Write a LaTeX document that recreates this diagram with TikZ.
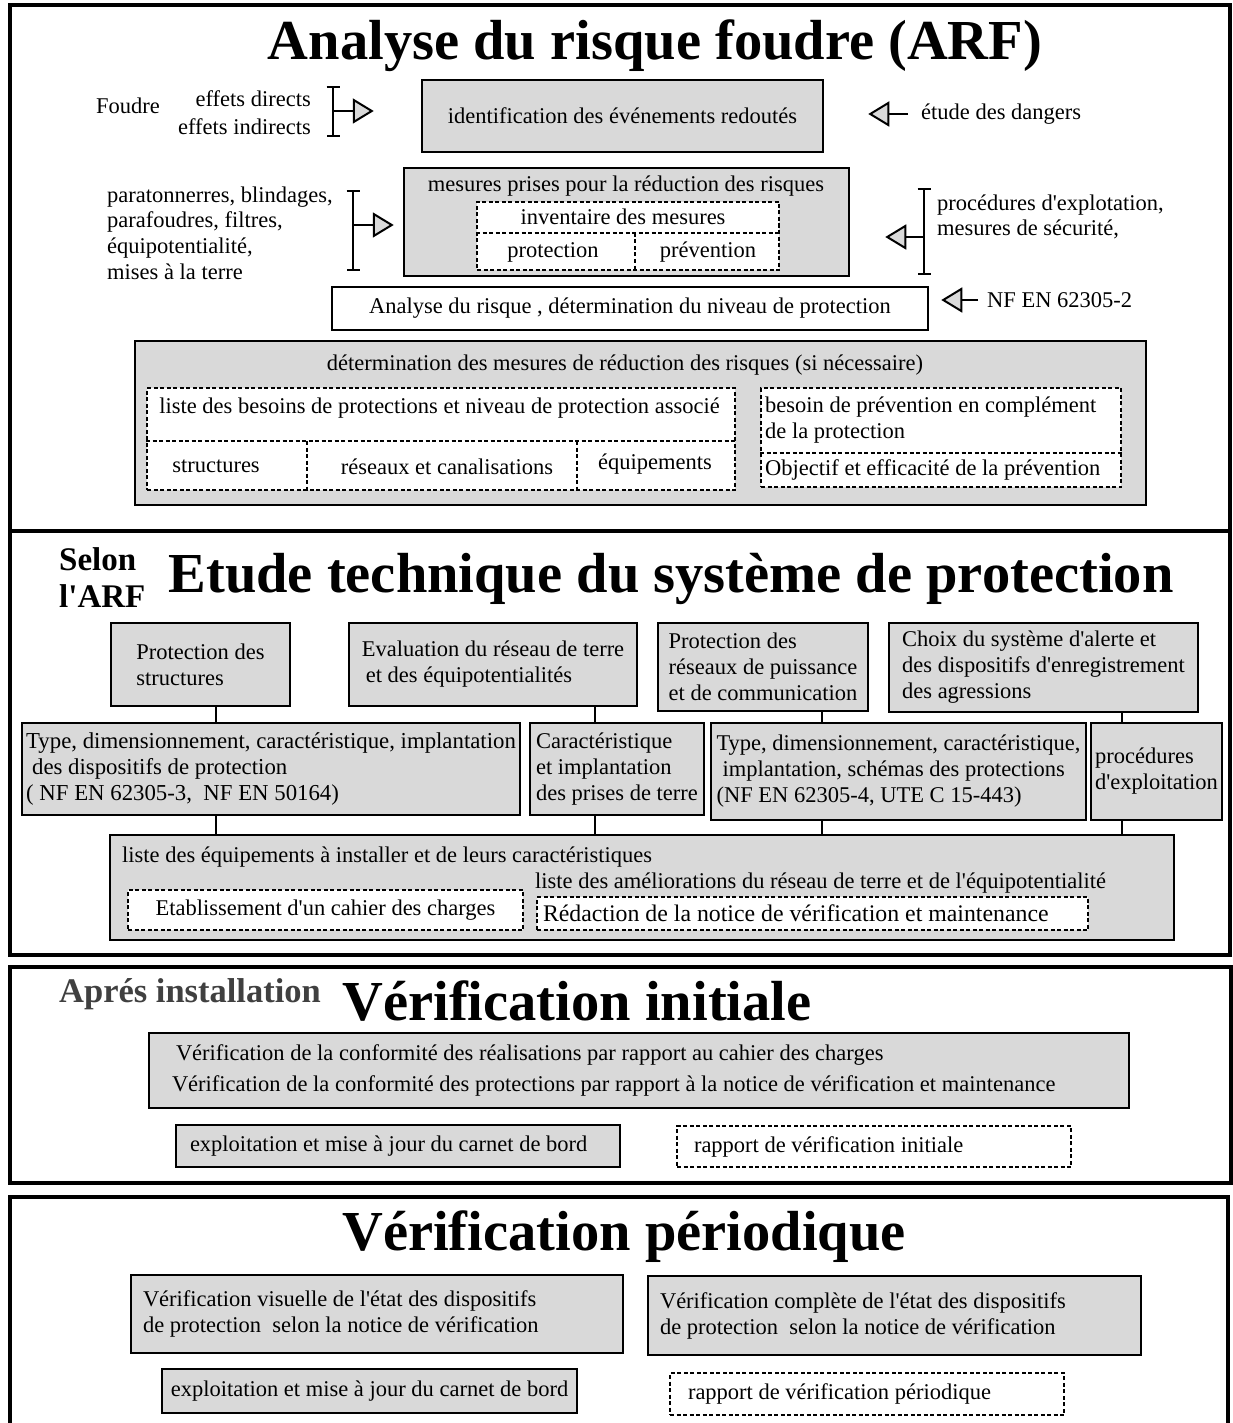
\documentclass[tikz,border=0pt]{standalone}
\usepackage{fontspec}
\setmainfont{Liberation Serif}[Ligatures=TeXOff]
\usetikzlibrary{arrows.meta,calc}
\definecolor{boxgray}{gray}{0.85}
\newcommand\bodyf{\fontsize{22.5}{26}\selectfont}
\newcommand\titlef{\fontsize{56.5}{60}\selectfont\bfseries}
\newcommand\subf{\fontsize{33}{37}\selectfont\bfseries}
\begin{document}
\begin{tikzpicture}[x=1pt,y=-1pt,
  txt/.style={font=\bodyf, inner sep=1pt},
  gbox/.style 2 args={draw, line width=2.5pt, fill=boxgray, minimum width=#1pt, minimum height=#2pt, font=\bodyf, align=center, inner sep=0pt},
  wbox/.style 2 args={draw, line width=2.5pt, fill=white, minimum width=#1pt, minimum height=#2pt, font=\bodyf, align=center, inner sep=0pt},
  dbox/.style 2 args={draw, line width=2pt, dash pattern=on 4pt off 2.5pt, fill=white, minimum width=#1pt, minimum height=#2pt, font=\bodyf, align=center, inner sep=0pt},
  dsh/.style={line width=2pt, dash pattern=on 4pt off 2.5pt},
  panel/.style={line width=4pt},
  conn/.style={line width=1.6pt},
  tri/.style={line width=2pt, -{Triangle[length=21pt, width=25pt, fill=boxgray, line join=miter]}},
  brk/.style={line width=2pt, {Bar[width=13pt]}-{Bar[width=13pt]}}
]
\useasboundingbox (0,0) rectangle (1233,1423);
\clip (0,0) rectangle (1233,1423);

% ---------- panels
\draw[panel] (10,5) rectangle (1230,531);
\draw[panel] (10,531) rectangle (1230,955);
\draw[panel] (10,967) rectangle (1231,1183);
\draw[panel] (10,1197) rectangle (1228,1440);

% ---------- panel 1
\node[txt, anchor=base, font=\titlef] (t1) at (655,60) {Analyse du risque foudre (ARF)};
\node[txt, anchor=west] (foudre) at (95,106) {Foudre};
\node[txt, anchor=east, align=right, font=\fontsize{22.5}{28}\selectfont] (effets) at (312,113) {effets directs\\effets indirects};
\node[gbox={401}{72}] (idbox) at (622.5,116) {identification des événements redoutés};
\coordinate (k1) at (333,111);
\draw[brk] ($(k1)+(0,-25)$) -- ($(k1)+(0,26)$);
\draw[tri, shorten >=47pt] (k1) -- (k1 -| idbox.west);
\node[txt, anchor=west] (dangers) at (920,114) {étude des dangers};
\draw[tri, shorten <=12pt, shorten >=44pt] (dangers.west) -- (dangers.west -| idbox.east);

\node[gbox={445}{108}] (mesbox) at (626.5,222) {};
\node[txt] (mest) at (626,186) {mesures prises pour la réduction des risques};
\node[dbox={302}{68}] (inv) at (628,236) {};
\draw[dsh] ([yshift=3pt]inv.west) -- ([yshift=3pt]inv.east);
\draw[dsh] ([xshift=7pt,yshift=3pt]inv.center) -- ([xshift=7pt]inv.south);
\node[txt] (invt) at (623,217) {inventaire des mesures};
\node[txt] (prot) at (553,252) {protection};
\node[txt] (prev) at (708,252) {prévention};

\node[txt, anchor=west, align=left, font=\fontsize{22.5}{25.7}\selectfont] (mlist) at (106,233) {paratonnerres, blindages,\\parafoudres, filtres,\\équipotentialité,\\mises à la terre};
\coordinate (k2) at (353,225);
\draw[brk] ($(k2)+(0,-35)$) -- ($(k2)+(0,46)$);
\draw[tri, shorten >=9pt] (k2) -- (k2 -| mesbox.west);

\node[txt, anchor=west, align=left, font=\fontsize{22.5}{25}\selectfont] (proc) at (936,216.5) {procédures d'explotation,\\mesures de sécurité,};
\coordinate (k3) at (924,237);
\draw[brk] ($(k3)+(0,-49)$) -- ($(k3)+(0,38)$);
\draw[tri, shorten >=35pt] (k3) -- (k3 -| mesbox.east);

\node[wbox={596}{43}] (anbox) at (630,308.5) {Analyse du risque , détermination du niveau de protection};
\node[txt, anchor=west] (nf) at (986,300) {NF EN 62305-2};
\draw[tri, shorten <=8pt, shorten >=12pt] (nf.west) -- (nf.west -| anbox.east);

\node[gbox={1011}{164}] (detbox) at (640.5,423) {};
\node[txt] (dett) at (625,365) {détermination des mesures de réduction des risques (si nécessaire)};
\node[dbox={588}{102}] (besL) at (441,439) {};
\draw[dsh] ([yshift=-2pt]besL.west) -- ([yshift=-2pt]besL.east);
\draw[dsh] ([xshift=-134pt,yshift=-2pt]besL.center) -- ([xshift=-134pt]besL.south);
\draw[dsh] ([xshift=136pt,yshift=-2pt]besL.center) -- ([xshift=136pt]besL.south);
\node[txt] (besLt) at (439.5,408) {liste des besoins de protections et niveau de protection associé};
\node[txt] (str) at (216,466) {structures};
\node[txt] (res) at (447,467) {réseaux et canalisations};
\node[txt] (equ) at (655,464) {équipements};
\node[dbox={360}{99}] (besR) at (941,437.5) {};
\draw[dsh] ([yshift=-15.5pt]besR.west) -- ([yshift=-15.5pt]besR.east);
\node[txt, anchor=west, align=left] (besRt) at (764,420) {besoin de prévention en complément\\de la protection};
\node[txt, anchor=west] (obj) at (764,470) {Objectif et efficacité de la prévention};

% ---------- panel 2
\node[txt, anchor=west, align=left, font=\subf] (selon) at (58,578) {Selon\\l'ARF};
\node[txt, anchor=base, font=\titlef] (t2) at (671,592) {Etude technique du système de protection};
\node[gbox={179}{83}, align=left] (B1) at (200.5,664.5) {Protection des\\structures};
\node[gbox={288}{83}, align=left] (B2) at (493,664.5) {Evaluation du réseau de terre\\\hspace*{4pt}et des équipotentialités};
\node[gbox={210}{88}, align=left] (B3) at (763,667) {Protection des\\réseaux de puissance\\et de communication};
\node[gbox={309}{89}, align=left] (B4) at (1043.5,667.5) {Choix du système d'alerte et\\des dispositifs d'enregistrement\\des agressions};
\node[gbox={498}{92}, align=left, font=\fontsize{22.8}{26}\selectfont] (M1) at (271,769) {Type, dimensionnement, caractéristique, implantation\\\hspace*{6pt}des dispositifs de protection\\( NF EN 62305-3,~~NF EN 50164)};
\node[gbox={174}{92}, align=left] (M2) at (617,769) {Caractéristique\\et implantation\\des prises de terre};
\node[gbox={375}{97}, align=left] (M3) at (898.5,771.5) {Type, dimensionnement, caractéristique,\\\hspace*{6pt}implantation, schémas des protections\\(NF EN 62305-4, UTE C 15-443)};
\node[gbox={131}{97}, align=left] (M4) at (1156.5,771.5) {procédures\\d'exploitation};
\node[gbox={1064}{105}] (L) at (642,887.5) {};
\node[txt, anchor=west] (Lt1) at (121,857) {liste des équipements à installer et de leurs caractéristiques};
\node[txt, anchor=west] (Lt2) at (534,883) {liste des améliorations du réseau de terre et de l'équipotentialité};
\node[dbox={395}{40}] (cahier) at (325.5,910) {Etablissement d'un cahier des charges};
\node[dbox={551}{33}, text width=539pt, align=flush left, font=\fontsize{23.8}{26}\selectfont] (redac) at (812.5,913.5) {Rédaction de la notice de vérification et maintenance};

\draw[conn] ([xshift=15.5pt]B1.south) -- ([xshift=15.5pt]B1.south |- M1.north);
\draw[conn] ([xshift=102pt]B2.south) -- ([xshift=102pt]B2.south |- M2.north);
\draw[conn] ([xshift=59pt]B3.south) -- ([xshift=59pt]B3.south |- M3.north);
\draw[conn] ([xshift=78.5pt]B4.south) -- ([xshift=78.5pt]B4.south |- M4.north);
\draw[conn] ([xshift=-55pt]M1.south) -- ([xshift=-55pt]M1.south |- L.north);
\draw[conn] ([xshift=-22pt]M2.south) -- ([xshift=-22pt]M2.south |- L.north);
\draw[conn] ([xshift=-76.5pt]M3.south) -- ([xshift=-76.5pt]M3.south |- L.north);
\draw[conn] ([xshift=-34.5pt]M4.south) -- ([xshift=-34.5pt]M4.south |- L.north);

% ---------- panel 3
\node[txt, anchor=base west, font=\fontsize{34.5}{38}\selectfont\bfseries, text=black!75] (apres) at (58,1002) {Aprés installation};
\node[txt, anchor=base, font=\titlef] (t3) at (577,1020) {Vérification initiale};
\node[gbox={980}{75}, text width=934pt, align=flush left, font=\fontsize{22.5}{31}\selectfont] (V1) at (639,1070.5) {\hspace*{4pt}Vérification de la conformité des réalisations par rapport au cahier des charges\\Vérification de la conformité des protections par rapport à la notice de vérification et maintenance};
\node[gbox={444}{42}, text width=416pt, align=flush left] (C1) at (398,1146) {exploitation et mise à jour du carnet de bord};
\node[dbox={394}{41}, text width=360pt, align=flush left] (R1) at (874,1146.5) {rapport de vérification initiale};

% ---------- panel 4
\node[txt, anchor=base, font=\titlef] (t4) at (624,1250) {Vérification périodique};
\node[gbox={492}{78}, text width=468pt, align=flush left] (P1) at (377,1314) {Vérification visuelle de l'état des dispositifs\\de protection~~selon la notice de vérification};
\node[gbox={493}{79}, text width=469pt, align=flush left] (P2) at (894.5,1315.5) {Vérification complète de l'état des dispositifs\\de protection~~selon la notice de vérification};
\node[gbox={415}{44}] (C2) at (369.5,1391) {exploitation et mise à jour du carnet de bord};
\node[dbox={394}{42}, text width=358pt, align=flush left] (R2) at (867,1394) {rapport de vérification périodique};
\end{tikzpicture}
\end{document}
